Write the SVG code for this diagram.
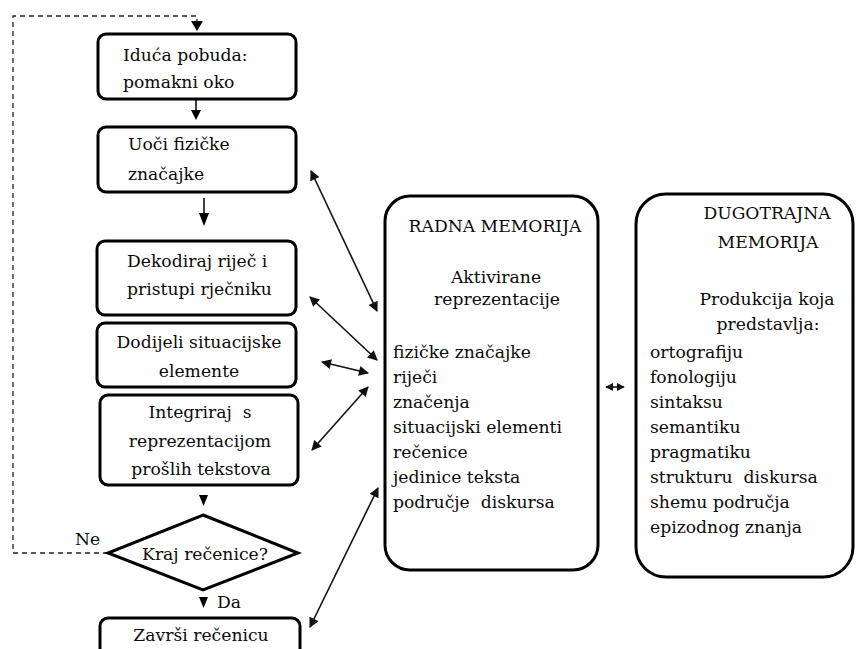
<svg xmlns="http://www.w3.org/2000/svg" width="856" height="649" viewBox="0 0 856 649">
<defs>
<style>
.box{fill:#fff;stroke:#000;stroke-width:3}
.t{font-family:"DejaVu Serif","Liberation Serif",serif;font-size:17.2px;fill:#0a0a0a}
.c{text-anchor:middle}
.con{stroke:#111;stroke-width:1.6;fill:none}
.dash{stroke:#222;stroke-width:1.3;fill:none;stroke-dasharray:5,4}
.head{fill:#000}
</style>
<marker id="ah" viewBox="0 0 10 10" refX="9" refY="5" markerWidth="11" markerHeight="10" markerUnits="userSpaceOnUse" orient="auto-start-reverse">
<path d="M0,0 L10,5 L0,10 z" fill="#111"/>
</marker>
<marker id="ahs" viewBox="0 0 10 10" refX="9" refY="5" markerWidth="8" markerHeight="8" markerUnits="userSpaceOnUse" orient="auto-start-reverse">
<path d="M0,0 L10,5 L0,10 z" fill="#111"/>
</marker>
</defs>
<rect width="856" height="649" fill="#fff"/>
<g id="connectors">
<path class="dash" d="M108,553 H13 V16 H197 V22"/>
<path class="head" d="M191,21 L203,21 L197,31 z"/>
<line class="con" x1="196" y1="99" x2="196" y2="111"/>
<path class="head" d="M191,110 L201,110 L196,120 z"/>
<line class="con" x1="204" y1="198" x2="204" y2="214"/>
<path class="head" d="M199,213 L209,213 L204,226 z"/>
<path class="head" d="M199,495 L208,495 L203.5,506 z"/>
<path class="head" d="M199,597 L208,597 L203.5,608 z"/>
<line class="con" x1="311" y1="171" x2="377" y2="311" marker-start="url(#ah)" marker-end="url(#ah)"/>
<line class="con" x1="310" y1="297" x2="377" y2="360" marker-start="url(#ah)" marker-end="url(#ah)"/>
<line class="con" x1="322" y1="362" x2="368" y2="373" marker-start="url(#ah)" marker-end="url(#ah)"/>
<line class="con" x1="368" y1="387" x2="312" y2="450" marker-start="url(#ah)" marker-end="url(#ah)"/>
<line class="con" x1="378" y1="488" x2="310" y2="627" marker-start="url(#ah)" marker-end="url(#ah)"/>
<line class="con" x1="606" y1="387" x2="624" y2="387" marker-start="url(#ahs)" marker-end="url(#ahs)"/>
</g>
<g id="n1">
<rect class="box" x="98" y="34" width="198" height="65" rx="8"/>
<text class="t" x="123" y="61">Iduća pobuda:</text>
<text class="t" x="123" y="88">pomakni oko</text>
</g>
<g id="n2">
<rect class="box" x="98" y="127" width="198" height="65" rx="8"/>
<text class="t" x="128" y="150">Uoči fizičke</text>
<text class="t" x="128" y="180">značajke</text>
</g>
<g id="n3">
<rect class="box" x="97" y="241" width="199" height="74" rx="8"/>
<text class="t" x="127" y="267">Dekodiraj riječ i</text>
<text class="t" x="127" y="295">pristupi rječniku</text>
</g>
<g id="n4">
<rect class="box" x="97" y="323" width="199" height="64" rx="8"/>
<text class="t c" x="199" y="348">Dodijeli situacijske</text>
<text class="t c" x="199" y="377">elemente</text>
</g>
<g id="n5">
<rect class="box" x="100" y="395" width="198" height="90" rx="8"/>
<text class="t c" x="200" y="418" xml:space="preserve">Integriraj  s</text>
<text class="t c" x="200" y="447">reprezentacijom</text>
<text class="t c" x="201" y="475">prošlih tekstova</text>
</g>
<g id="n6">
<path class="box" d="M203,515 L298,553 L203,590 L108,553 z"/>
<text class="t c" x="205" y="560">Kraj rečenice?</text>
<text class="t" x="75" y="545">Ne</text>
<text class="t" x="217" y="608">Da</text>
</g>
<g id="n7">
<rect class="box" x="100" y="618" width="200" height="50" rx="8"/>
<text class="t c" x="201" y="641">Završi rečenicu</text>
</g>
<g id="n8">
<rect class="box" x="385" y="196" width="213" height="374" rx="25"/>
<text class="t c" x="495" y="232">RADNA MEMORIJA</text>
<text class="t c" x="496" y="283">Aktivirane</text>
<text class="t c" x="497" y="305">reprezentacije</text>
<text class="t" x="393" y="358">fizičke značajke</text>
<text class="t" x="393" y="383">riječi</text>
<text class="t" x="393" y="408">značenja</text>
<text class="t" x="393" y="433">situacijski elementi</text>
<text class="t" x="393" y="458">rečenice</text>
<text class="t" x="393" y="483">jedinice teksta</text>
<text class="t" x="393" y="508" xml:space="preserve">područje  diskursa</text>
</g>
<g id="n9">
<rect class="box" x="636" y="194" width="217" height="383" rx="30"/>
<text class="t c" x="767" y="219">DUGOTRAJNA</text>
<text class="t c" x="768" y="248">MEMORIJA</text>
<text class="t c" x="767" y="305">Produkcija koja</text>
<text class="t c" x="768" y="330">predstavlja:</text>
<text class="t" x="650" y="358">ortografiju</text>
<text class="t" x="650" y="383">fonologiju</text>
<text class="t" x="650" y="408">sintaksu</text>
<text class="t" x="650" y="433">semantiku</text>
<text class="t" x="650" y="458">pragmatiku</text>
<text class="t" x="650" y="483" xml:space="preserve">strukturu  diskursa</text>
<text class="t" x="650" y="508">shemu područja</text>
<text class="t" x="650" y="533">epizodnog znanja</text>
</g>
</svg>
